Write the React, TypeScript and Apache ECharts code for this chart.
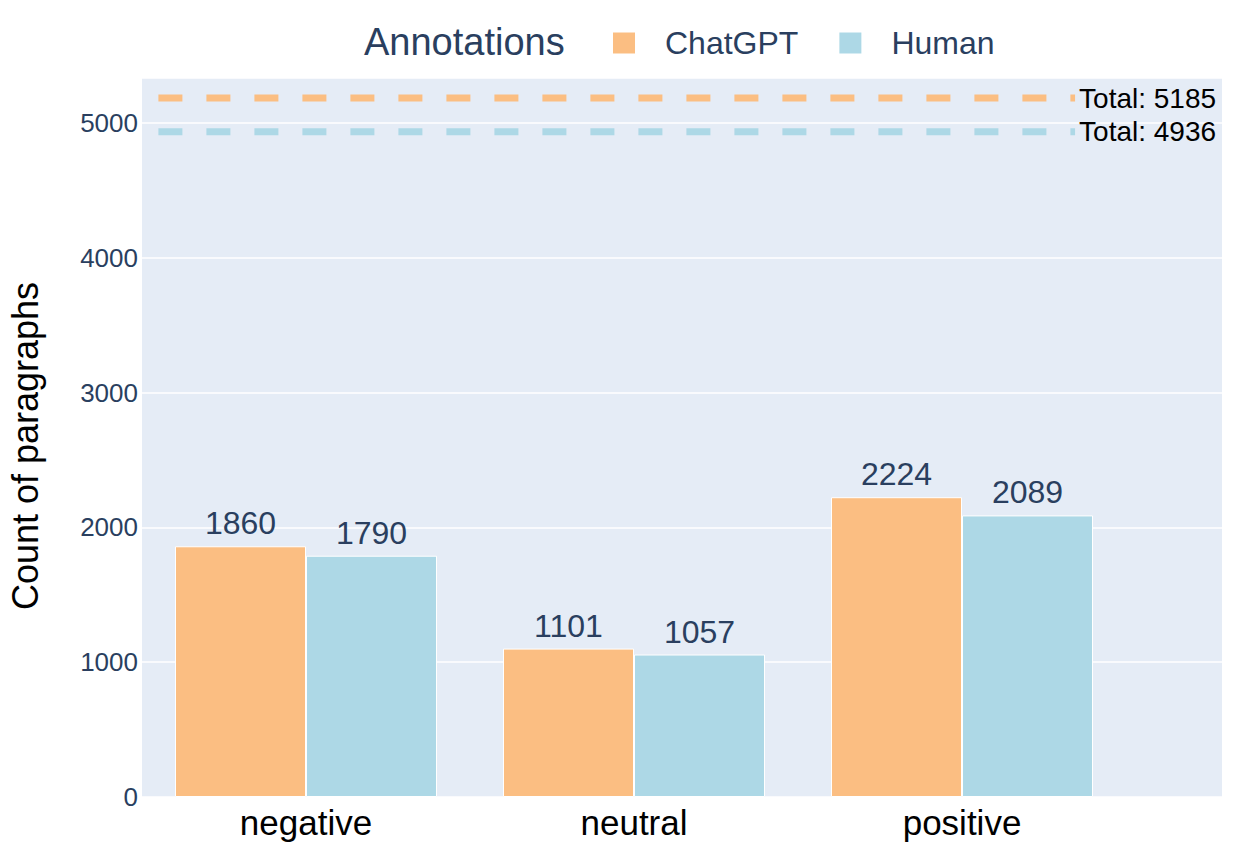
import React, { useEffect, useRef } from 'react';
import * as echarts from 'echarts';

// ---- data ----
const categories = ['negative', 'neutral', 'positive'];
const chatgptCounts = [1860, 1101, 2224];
const humanCounts = [1790, 1057, 2089];
const seriesNames = ['ChatGPT', 'Human'];
const legendTitle = 'Annotations';
const yAxisTitle = 'Count of paragraphs';
const totalLineX = [-0.45, 2.345];
const yMax = 5334;
const yInterval = 1000;

const chatgptTotal = chatgptCounts.reduce((a, b) => a + b, 0);
const humanTotal = humanCounts.reduce((a, b) => a + b, 0);

const ORANGE = '#FBBE82';
const BLUE = '#ADD8E6';
const TEXT = '#2a3f5f';
const FONT = '"Liberation Sans", Arial, sans-serif';

export default function App() {
  const ref = useRef<HTMLDivElement>(null);

  useEffect(() => {
    if (!ref.current) return;
    const chart = echarts.init(ref.current, undefined, { renderer: 'svg' });

    const barLabel = {
      show: true,
      position: 'top',
      distance: 7,
      fontSize: 32,
      color: TEXT,
      fontFamily: FONT,
    };

    const totalLine = (name: string, total: number, color: string) => ({
      name,
      type: 'line',
      xAxisIndex: 0,
      yAxisIndex: 0,
      data: totalLineX.map((x) => [x, total]),
      symbol: 'none',
      silent: true,
      z: 3,
      lineStyle: { color, width: 7, type: [24, 24], cap: 'butt' },
      endLabel: {
        show: true,
        formatter: 'Total: ' + total,
        color: '#000',
        fontSize: 28,
        fontFamily: FONT,
        distance: 4,
      },
    });

    const option: any = {
      animation: false,
      backgroundColor: '#fff',
      textStyle: { fontFamily: FONT },
      grid: [
        {
          left: 142,
          right: 26,
          top: 78,
          bottom: 56,
          show: true,
          backgroundColor: '#E5ECF6',
          borderWidth: 0,
        },
        { left: 142, width: 984, top: 78, bottom: 56 },
      ],
      xAxis: [
        { type: 'value', gridIndex: 0, min: -0.5, max: 2.793, show: false },
        {
          type: 'category',
          gridIndex: 1,
          data: categories,
          axisLine: { show: false },
          axisTick: { show: false },
          splitLine: { show: false },
          axisLabel: { fontSize: 35, color: '#000', margin: 8, fontFamily: FONT },
        },
      ],
      yAxis: [
        {
          type: 'value',
          gridIndex: 0,
          min: 0,
          max: yMax,
          interval: yInterval,
          axisLine: { show: false },
          axisTick: { show: false },
          splitLine: { lineStyle: { color: '#fff', width: 1.5 } },
          axisLabel: {
            fontSize: 26,
            color: TEXT,
            margin: 4,
            fontFamily: FONT,
            showMaxLabel: false,
            formatter: (v: number) => (v % yInterval === 0 ? String(v) : ''),
          },
        },
        { type: 'value', gridIndex: 1, min: 0, max: yMax, show: false },
      ],
      legend: {
        data: seriesNames,
        left: 606,
        top: 22,
        icon: 'rect',
        itemWidth: 24,
        itemHeight: 23,
        itemGap: 39,
        textStyle: { fontSize: 32, color: TEXT, fontFamily: FONT, padding: [0, 0, 0, 24] },
      },
      graphic: [
        {
          type: 'text',
          x: 364,
          y: 42,
          style: {
            text: legendTitle,
            fontSize: 38,
            fill: TEXT,
            fontFamily: FONT,
            align: 'left',
            verticalAlign: 'middle',
          },
        },
        {
          type: 'text',
          x: 25,
          y: 446,
          rotation: Math.PI / 2,
          style: {
            text: yAxisTitle,
            fontSize: 36,
            fill: '#000',
            fontFamily: FONT,
            align: 'center',
            verticalAlign: 'middle',
          },
        },
      ],
      series: [
        {
          name: seriesNames[0],
          type: 'bar',
          xAxisIndex: 1,
          yAxisIndex: 1,
          data: chatgptCounts,
          barWidth: 131,
          barGap: '0%',
          itemStyle: { color: ORANGE, borderColor: '#fff', borderWidth: 1 },
          label: barLabel,
        },
        {
          name: seriesNames[1],
          type: 'bar',
          xAxisIndex: 1,
          yAxisIndex: 1,
          data: humanCounts,
          barWidth: 131,
          barGap: '0%',
          itemStyle: { color: BLUE, borderColor: '#fff', borderWidth: 1 },
          label: barLabel,
        },
        totalLine('ChatGPT total', chatgptTotal, ORANGE),
        totalLine('Human total', humanTotal, BLUE),
      ],
    };

    chart.setOption(option);
    return () => chart.dispose();
  }, []);

  return (
    <div
      ref={ref}
      style={{ position: 'absolute', left: 0, top: 0, width: 1248, height: 853 }}
    />
  );
}
